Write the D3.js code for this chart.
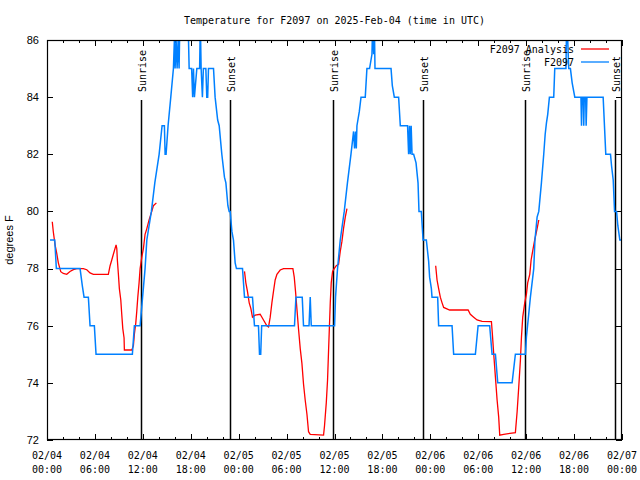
<!DOCTYPE html>
<html><head><meta charset="utf-8">
<script src="https://cdn.jsdelivr.net/npm/d3@7"></script>
<style>body{margin:0;background:#fff} svg{display:block}</style>
</head><body><svg id="c" width="640" height="480"></svg>
<script>
// ---------- data (hours since 2025-02-04 00:00 UTC) ----------
const startUTC = Date.UTC(2025, 1, 4);
const obsHours = [0.38,0.97,1.17,4.14,4.42,4.64,5.18,5.39,5.93,6.14,10.69,10.94,11.66,
  11.97,12.28,12.50,13.07,13.50,14.04,14.41,14.70,14.79,14.91,15.16,15.50,15.83,15.95,16.04,16.17,16.29,16.42,16.54,16.63,
  17.67,17.80,18.11,18.24,18.34,18.46,18.76,19.11,19.20,19.30,19.46,19.58,19.89,20.01,20.12,20.22,20.85,21.05,
  21.37,21.56,21.89,22.22,22.40,22.65,22.81,22.94,23.15,23.35,23.56,23.72,
  24.48,24.73,25.73,25.98,26.48,26.61,26.76,26.88,30.99,31.17,31.96,32.12,32.81,32.96,33.09,36.01,
  36.13,36.38,36.72,37.22,37.62,38.06,38.39,38.51,38.64,38.73,38.81,39.11,39.32,39.85,40.06,40.39,40.69,40.78,40.91,40.99,41.07,
  43.08,43.24,43.49,44.03,44.24,45.15,45.28,45.39,45.49,45.60,45.71,45.91,46.21,46.46,46.58,46.87,47.09,47.50,
  47.79,47.91,48.13,48.21,48.92,49.04,50.72,50.92,53.64,53.98,55.43,55.73,56.15,56.44,58.24,58.65,59.91,
  60.03,60.32,60.53,60.95,61.10,61.37,61.58,61.91,62.20,62.38,62.54,62.70,62.91,63.45,63.58,64.98,65.07,65.13,65.33,
  65.54,65.76,66.09,66.80,66.86,66.93,66.99,67.15,67.21,67.28,67.45,67.51,67.61,69.64,69.97,70.56,70.69,70.90,71.07,71.32,71.48,71.73,72.0];
const obsTemps = [79,79,78,78,77.4,77,77,76,76,75,75,76,76,
  77,78,79,80,81,82,83,83,82,82,83,84,85,86,85,86,85,86,85,86.6,
  86.6,85,85,84,85,84,85,85,86.6,85,84,85,85,84,84,85,85,84,
  83.2,83,82,81.2,81,80.2,80,80,79.3,79,78.2,78,
  78,77,77,76,76,75,75,76,76,77,77,76,76,77,76,76,
  77,78,79,80,81,82,82.8,82.2,82.8,82.2,83,83.5,84,84,85,85,85.5,86.6,85.5,86.6,85,
  85,84.4,84,84,83,83,82,83,82,83,82,82,81.7,81,80,80,79,79,
  78.25,77.7,77.3,77,77,76,76,75,75,76,76,75,75,74,74,75,75,
  75.6,76.4,77,78,79,79.8,80,81,82,82.7,83.1,83.4,84,84,85,85,86.6,86.6,85,
  85,84.5,84,84,84,83,84,84,83,84,84,83,84,84,82,82,81.6,81.1,80,80,79.5,79,79];
// analysis series (null = gap)
const anaHours = [0.66,0.79,1.00,1.22,1.42,1.72,2.04,2.47,2.88,3.30,3.72,4.55,4.98,5.39,5.80,7.68,7.90,8.11,8.31,8.65,8.74,8.81,8.94,9.06,9.24,9.36,9.49,9.65,9.69,10.62,10.82,10.94,11.12,11.24,11.37,11.53,11.66,11.87,12.07,12.28,12.50,12.78,13.12,13.32,13.70,
  null,
  24.73,24.90,25.10,25.32,25.53,25.73,26.07,26.69,27.11,27.53,27.74,27.95,28.16,28.36,28.57,28.79,29.20,29.62,30.79,30.96,31.12,31.29,31.49,31.71,31.92,32.12,32.33,32.55,32.75,32.96,34.63,34.75,34.97,35.13,35.26,35.38,35.47,35.59,35.76,35.97,36.22,36.51,36.72,36.93,37.13,37.35,37.56,
  null,
  48.67,48.84,49.04,49.25,49.47,49.67,50.42,52.73,53.01,53.43,53.85,54.48,55.65,55.77,55.94,56.15,56.36,56.56,56.69,57.19,58.65,58.87,59.07,59.28,59.41,59.57,59.82,60.03,60.19,60.45,60.62,60.87,61.07,61.37,61.58];
const anaTemps = [79.64,79.29,78.85,78.53,78.2,77.89,77.83,77.8,77.9,77.96,78.0,78.0,77.96,77.85,77.8,77.8,78.1,78.3,78.5,78.83,78.7,78.3,77.8,77.3,76.9,76.4,75.9,75.57,75.15,75.15,75.3,75.7,76.1,76.5,77.0,77.5,78.0,78.4,78.7,79.2,79.4,79.7,80.0,80.2,80.3,
  null,
  77.9,77.5,77.2,76.8,76.6,76.3,76.37,76.4,76.2,76.0,75.96,76.3,76.8,77.2,77.6,77.8,77.95,78.0,78.0,77.7,77.2,76.6,75.9,75.2,74.68,73.96,73.4,72.9,72.29,72.2,72.17,72.5,73.3,74.1,75.15,76.1,76.8,77.5,77.9,78.0,78.1,78.15,78.6,78.95,79.4,79.8,80.1,
  null,
  78.1,77.6,77.3,77.0,76.8,76.64,76.55,76.55,76.4,76.3,76.2,76.15,76.14,75.7,75.0,74.2,73.4,72.8,72.17,72.2,72.26,73.0,73.85,74.8,75.6,76.3,76.8,77.1,77.5,77.8,78.3,78.7,79.0,79.4,79.7];
const sunHours = [11.71, 22.96, 35.75, 47.04, 59.82, 71.10];
const sunLabels = ["Sunrise","Sunset","Sunrise","Sunset","Sunrise","Sunset"];
const yTicks = [72,74,76,78,80,82,84,86];
const titleText = "Temperature for F2097 on 2025-Feb-04 (time in UTC)";
const yLabel = "degrees F";
const seriesNames = ["F2097 Analysis","F2097"];
const seriesColors = ["#ff0000","#0080ff"];

// ---------- layout ----------
const L = 47, R = 622, T = 40, B = 440;
const mono = "'DejaVu Sans Mono', monospace";
const sans = "'Liberation Sans', Arial, sans-serif";
const toDate = h => new Date(startUTC + h * 3600e3);

const x = d3.scaleUtc().domain([toDate(0), toDate(72)]).range([L, R]);
const y = d3.scaleLinear().domain([72, 86]).range([B, T]);

const svg = d3.select("#c");
svg.append("rect").attr("width",640).attr("height",480).attr("fill","#fff");

svg.append("defs").append("clipPath").attr("id","clip")
  .append("rect").attr("x",L).attr("y",T).attr("width",R-L).attr("height",B-T);

// title
svg.append("text").attr("x",(L+R)/2).attr("y",24).attr("text-anchor","middle")
  .style("font-family",mono).style("font-size","10px").text(titleText);

// axes (inward ticks)
const major = d3.utcHour.every(6), minor = d3.utcHour.every(2);
const gAx = svg.append("g").attr("stroke-width",1);
gAx.append("g").attr("transform",`translate(0,${B})`)
  .call(d3.axisBottom(x).ticks(minor).tickSize(-3).tickFormat(""));
gAx.append("g").attr("transform",`translate(0,${B})`)
  .call(d3.axisBottom(x).ticks(major).tickSize(-6).tickFormat(""));
gAx.append("g").attr("transform",`translate(0,${T})`)
  .call(d3.axisTop(x).ticks(minor).tickSize(-3).tickFormat(""));
gAx.append("g").attr("transform",`translate(0,${T})`)
  .call(d3.axisTop(x).ticks(major).tickSize(-6).tickFormat(""));
gAx.append("g").attr("transform",`translate(${L},0)`)
  .call(d3.axisLeft(y).tickValues(yTicks).tickSize(-6).tickFormat(""));
gAx.append("g").attr("transform",`translate(${R},0)`)
  .call(d3.axisRight(y).tickValues(yTicks).tickSize(-6).tickFormat(""));
gAx.selectAll(".domain").remove();
gAx.selectAll("line").attr("stroke","#000").attr("shape-rendering","crispEdges");

// x tick labels (two lines)
const fmtD = d3.utcFormat("%m/%d"), fmtT = d3.utcFormat("%H:%M");
const xl = svg.append("g").style("font-family",mono).style("font-size","10px").attr("text-anchor","middle");
x.ticks(major).forEach(t => {
  const tx = xl.append("text").attr("x", x(t)).attr("y", 459);
  tx.append("tspan").attr("x", x(t)).text(fmtD(t));
  tx.append("tspan").attr("x", x(t)).attr("dy", 14).text(fmtT(t));
});

// y tick labels
svg.append("g").style("font-family",sans).style("font-size","11px").attr("text-anchor","end")
  .selectAll("text").data(yTicks).join("text")
  .attr("x", 39).attr("y", d => y(d)).attr("dy","0.35em").text(d => d);

svg.append("text").attr("transform",`translate(13,${(T+B)/2}) rotate(-90)`)
  .attr("text-anchor","middle").style("font-family",sans).style("font-size","11px").text(yLabel);

// sunrise / sunset markers
const sun = svg.append("g");
sunHours.forEach((h,i) => {
  const sx = Math.round(x(toDate(h))) + 0.5;
  sun.append("line").attr("x1",sx).attr("x2",sx).attr("y1",B).attr("y2",B-0.85*(B-T))
    .attr("stroke","#000").attr("stroke-width",1.5);
  sun.append("text").attr("transform",`translate(${sx+1},${B-0.87*(B-T)}) rotate(-90)`)
    .attr("dy","0.35em").style("font-family",mono).style("font-size","10px").text(sunLabels[i]);
});

// data lines
const plot = svg.append("g").attr("clip-path","url(#clip)");
const obs = obsHours.map((h,i) => ({t: toDate(h), v: obsTemps[i]}));
const ana = anaHours.map((h,i) => ({t: h == null ? null : toDate(h), v: anaTemps[i]}));
const line = d3.line().defined(d => d.t != null && d.v != null).x(d => x(d.t)).y(d => y(d.v));
plot.append("path").datum(ana).attr("d", line).attr("fill","none")
  .attr("stroke", seriesColors[0]).attr("stroke-width", 1.3);
plot.append("path").datum(obs).attr("d", line).attr("fill","none")
  .attr("stroke", seriesColors[1]).attr("stroke-width", 1.5);

// border
svg.append("rect").attr("x",L+0.5).attr("y",T+0.5).attr("width",R-L-1).attr("height",B-T-1)
  .attr("fill","none").attr("stroke","#000").attr("stroke-width",1.2);

// legend
const lg = svg.append("g").style("font-family",mono).style("font-size","10px");
seriesNames.forEach((n,i) => {
  const ly = 49 + i * 13;
  lg.append("text").attr("x",574).attr("y",ly).attr("dy","0.35em").attr("text-anchor","end").text(n);
  lg.append("line").attr("x1",581).attr("x2",609).attr("y1",ly).attr("y2",ly)
    .attr("stroke",seriesColors[i]).attr("stroke-width",1.3);
});
</script>
</body></html>
